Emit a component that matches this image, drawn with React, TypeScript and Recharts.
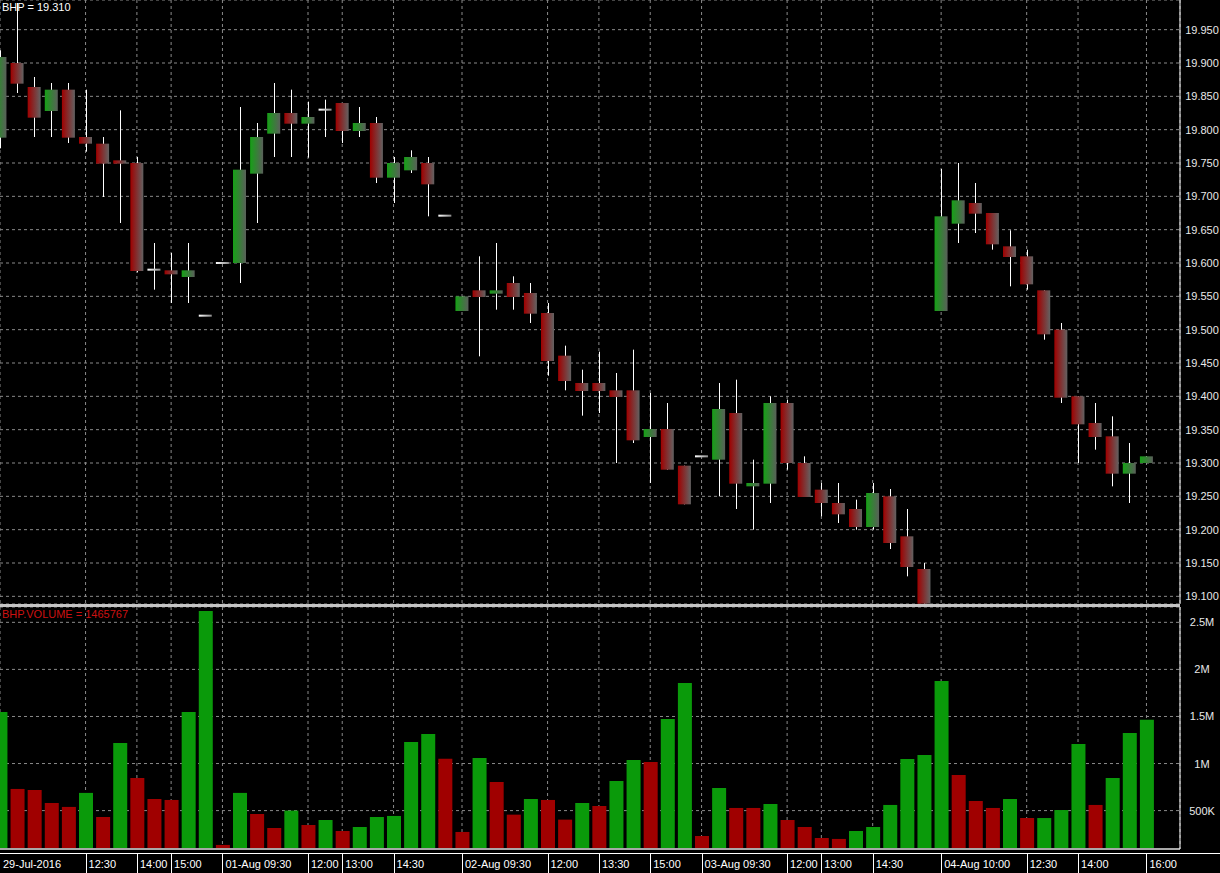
import React from 'react';
import { ComposedChart, BarChart, Bar, XAxis, YAxis, CartesianGrid, Cell } from 'recharts';

// ---- data (30-minute bars, BHP) ----
const opens = [
  19.788, 19.900, 19.864, 19.828, 19.860, 19.789, 19.779, 19.754, 19.750, 19.590,
  19.589, 19.579, 19.521, 19.600, 19.600, 19.734, 19.794, 19.825, 19.809, 19.830,
  19.840, 19.798, 19.810, 19.728, 19.739, 19.750, 19.671, 19.528, 19.559, 19.554,
  19.570, 19.555, 19.525, 19.461, 19.420, 19.420, 19.409, 19.409, 19.339, 19.351,
  19.296, 19.310, 19.305, 19.375, 19.265, 19.269, 19.390, 19.300, 19.260, 19.240,
  19.231, 19.204, 19.250, 19.190, 19.141, 19.528, 19.659, 19.690, 19.675, 19.625,
  19.610, 19.559, 19.500, 19.400, 19.360, 19.340, 19.284, 19.300,
];
const highs = [
  19.919, 19.990, 19.879, 19.870, 19.870, 19.860, 19.789, 19.829, 19.759, 19.630,
  19.615, 19.630, 19.521, 19.600, 19.834, 19.810, 19.870, 19.860, 19.842, 19.845,
  19.840, 19.834, 19.819, 19.759, 19.769, 19.759, 19.671, 19.550, 19.610, 19.630,
  19.580, 19.570, 19.540, 19.476, 19.440, 19.467, 19.435, 19.470, 19.405, 19.390,
  19.296, 19.310, 19.420, 19.425, 19.305, 19.400, 19.395, 19.310, 19.270, 19.270,
  19.245, 19.270, 19.261, 19.231, 19.150, 19.741, 19.750, 19.720, 19.675, 19.649,
  19.620, 19.559, 19.510, 19.400, 19.390, 19.370, 19.330, 19.310,
];
const lows = [
  19.772, 19.855, 19.789, 19.789, 19.780, 19.767, 19.699, 19.660, 19.586, 19.560,
  19.540, 19.540, 19.521, 19.600, 19.570, 19.660, 19.759, 19.759, 19.758, 19.789,
  19.780, 19.789, 19.720, 19.690, 19.735, 19.670, 19.671, 19.528, 19.460, 19.530,
  19.530, 19.510, 19.431, 19.409, 19.371, 19.375, 19.300, 19.330, 19.270, 19.290,
  19.238, 19.310, 19.250, 19.231, 19.200, 19.240, 19.290, 19.249, 19.220, 19.210,
  19.200, 19.200, 19.171, 19.130, 19.089, 19.528, 19.630, 19.645, 19.620, 19.565,
  19.560, 19.485, 19.390, 19.300, 19.320, 19.265, 19.240, 19.300,
];
const closes = [
  19.909, 19.869, 19.818, 19.860, 19.788, 19.779, 19.749, 19.749, 19.588, 19.590,
  19.583, 19.589, 19.521, 19.600, 19.740, 19.789, 19.825, 19.809, 19.819, 19.830,
  19.798, 19.810, 19.728, 19.750, 19.759, 19.718, 19.671, 19.550, 19.549, 19.559,
  19.549, 19.524, 19.453, 19.423, 19.408, 19.408, 19.399, 19.334, 19.351, 19.290,
  19.238, 19.310, 19.381, 19.269, 19.270, 19.390, 19.300, 19.249, 19.240, 19.223,
  19.204, 19.255, 19.180, 19.144, 19.089, 19.670, 19.694, 19.674, 19.628, 19.609,
  19.568, 19.493, 19.398, 19.358, 19.339, 19.284, 19.300, 19.310,
];
const volumes = [
  1548000, 730000, 720000, 581000, 539000, 688000, 432000, 1218000, 847000, 623000,
  613000, 1548000, 2621000, 135000, 688000, 464000, 315000, 500000, 347000, 400000,
  283000, 326000, 432000, 443000, 1229000, 1314000, 1052000, 273000, 1059000, 804000,
  457000, 623000, 613000, 404000, 581000, 549000, 815000, 1038000, 1016000, 1473000,
  1856000, 230000, 740000, 528000, 528000, 570000, 400000, 326000, 209000, 199000,
  283000, 326000, 560000, 1049000, 1091000, 1877000, 879000, 602000, 528000, 623000,
  421000, 421000, 506000, 1208000, 560000, 847000, 1325000, 1465767,
];
// 1 = green volume bar, 0 = red volume bar
const volumeUp = [
  1, 0, 0, 0, 0, 1, 0, 1, 0, 0,
  0, 1, 1, 0, 1, 0, 0, 1, 0, 1,
  0, 1, 1, 1, 1, 1, 0, 0, 1, 0,
  0, 1, 0, 0, 1, 0, 1, 1, 0, 1,
  1, 0, 1, 0, 0, 1, 0, 0, 0, 0,
  1, 1, 1, 1, 1, 1, 0, 0, 0, 1,
  0, 1, 1, 1, 0, 1, 1, 1,
];
const timeTickIndex = [0, 5, 8, 10, 13, 18, 20, 23, 27, 32, 35, 38, 41, 46, 48, 51, 55, 60, 63, 67];
const timeTickLabels = [
  '29-Jul-2016', '12:30', '14:00', '15:00', '01-Aug 09:30', '12:00', '13:00', '14:30',
  '02-Aug 09:30', '12:00', '13:30', '15:00', '03-Aug 09:30', '12:00', '13:00', '14:30',
  '04-Aug 10:00', '12:30', '14:00', '16:00',
];
const priceTicks = [
  19.1, 19.15, 19.2, 19.25, 19.3, 19.35, 19.4, 19.45, 19.5, 19.55,
  19.6, 19.65, 19.7, 19.75, 19.8, 19.85, 19.9, 19.95,
];
const volumeTicks = [500000, 1000000, 1500000, 2000000, 2500000];
const volumeTickLabels = ['500K', '1M', '1.5M', '2M', '2.5M'];

const data = opens.map((o, i) => ({
  i,
  open: o,
  high: highs[i],
  low: lows[i],
  close: closes[i],
  volume: volumes[i],
  up: volumeUp[i],
}));

const FONT = '"Liberation Sans", Arial, sans-serif';
const X_DOMAIN: [number, number] = [0, 68.96];
const PRICE_DOMAIN: [number, number] = [19.0885, 19.9945];
const VOL_DOMAIN: [number, number] = [92000, 2663000];

const Candle = (props: any) => {
  const { x, y, width, height, payload } = props;
  if (x == null || y == null || !payload) return null;
  const { open, close, high, low } = payload;
  const cx = Math.round(x + width / 2) + 0.5;
  const range = high - low;
  const toY = (v: number) => (range > 0 ? y + ((high - v) / range) * height : y);
  const wick =
    range > 0 ? <line x1={cx} x2={cx} y1={y} y2={y + height} stroke="#ffffff" strokeWidth={1} /> : null;
  if (open === close) {
    return (
      <g>
        {wick}
        <rect x={x} y={toY(open) - 1} width={width} height={2} fill="url(#gDoji)" />
      </g>
    );
  }
  const top = toY(Math.max(open, close));
  const bot = toY(Math.min(open, close));
  return (
    <g>
      {wick}
      <rect
        x={x}
        y={top}
        width={width}
        height={Math.max(1, bot - top)}
        fill={close > open ? 'url(#gUp)' : 'url(#gDn)'}
      />
    </g>
  );
};

const PriceTick = (props: any) => {
  const { x, y, payload } = props;
  return (
    <text x={x + 22} y={y + 4} fill="#e8e8e8" fontSize={11} fontFamily={FONT} textAnchor="middle">
      {Number(payload.value).toFixed(3)}
    </text>
  );
};

const VolTick = (props: any) => {
  const { x, y, payload } = props;
  const k = volumeTicks.indexOf(payload.value);
  return (
    <text x={x + 22} y={y + 4} fill="#e8e8e8" fontSize={11} fontFamily={FONT} textAnchor="middle">
      {k >= 0 ? volumeTickLabels[k] : ''}
    </text>
  );
};

const TimeTick = (props: any) => {
  const { x, y, payload } = props;
  const k = timeTickIndex.indexOf(payload.value);
  const label = k >= 0 ? timeTickLabels[k] : '';
  const lx = Math.round(x) + 0.5;
  return (
    <g>
      {k > 0 ? <line x1={lx} x2={lx} y1={y + 4} y2={y + 26} stroke="#ffffff" strokeWidth={1} /> : null}
      <text x={x + 3} y={y + 19} fill="#ffffff" fontSize={11} fontFamily={FONT} textAnchor="start">
        {label}
      </text>
    </g>
  );
};

export default function App() {
  return (
    <div
      style={{
        position: 'absolute',
        left: 0,
        top: 0,
        width: 1220,
        height: 873,
        background: '#000000',
        overflow: 'hidden',
        fontFamily: FONT,
      }}
    >
      <div style={{ position: 'absolute', left: 0, top: 0 }}>
        <ComposedChart width={1220} height={604} data={data} margin={{ top: 0, right: 0, bottom: 0, left: 0 }}>
          <defs>
            <linearGradient id="gUp" x1="0" y1="0" x2="1" y2="0">
              <stop offset="0%" stopColor="#16a016" />
              <stop offset="100%" stopColor="#5a5f5a" />
            </linearGradient>
            <linearGradient id="gDn" x1="0" y1="0" x2="1" y2="0">
              <stop offset="0%" stopColor="#a00000" />
              <stop offset="100%" stopColor="#626262" />
            </linearGradient>
            <linearGradient id="gDoji" x1="0" y1="0" x2="1" y2="0">
              <stop offset="0%" stopColor="#ffffff" />
              <stop offset="100%" stopColor="#8a8a8a" />
            </linearGradient>
          </defs>
          <CartesianGrid stroke="#8a8a8a" strokeDasharray="3 3" />
          <XAxis
            dataKey="i"
            type="number"
            domain={X_DOMAIN}
            ticks={timeTickIndex}
            allowDataOverflow
            hide
          />
          <YAxis
            orientation="right"
            width={40}
            type="number"
            domain={PRICE_DOMAIN}
            ticks={priceTicks}
            allowDataOverflow
            interval={0}
            tickSize={0}
            tickMargin={0}
            tickLine={false}
            axisLine={{ stroke: '#ffffff' }}
            tick={<PriceTick />}
          />
          <Bar
            dataKey={(d: any) => [d.low, d.high]}
            barSize={13}
            shape={<Candle />}
            isAnimationActive={false}
          />
        </ComposedChart>
      </div>

      <div style={{ position: 'absolute', left: 0, top: 604, width: 1180, height: 3, background: '#c4c4c4' }} />

      <div style={{ position: 'absolute', left: 0, top: 607 }}>
        <BarChart width={1220} height={266} data={data} margin={{ top: 0, right: 0, bottom: 0, left: 0 }}>
          <CartesianGrid stroke="#8a8a8a" strokeDasharray="3 3" />
          <XAxis
            dataKey="i"
            type="number"
            domain={X_DOMAIN}
            ticks={timeTickIndex}
            allowDataOverflow
            interval={0}
            height={24}
            tickSize={0}
            tickMargin={0}
            tickLine={false}
            axisLine={{ stroke: '#a8a8a8', strokeWidth: 2 }}
            tick={<TimeTick />}
          />
          <YAxis
            orientation="right"
            width={40}
            type="number"
            domain={VOL_DOMAIN}
            ticks={volumeTicks}
            allowDataOverflow
            interval={0}
            tickSize={0}
            tickMargin={0}
            tickLine={false}
            axisLine={{ stroke: '#ffffff' }}
            tick={<VolTick />}
          />
          <Bar dataKey="volume" barSize={14} isAnimationActive={false}>
            {data.map((d) => (
              <Cell key={d.i} fill={d.up ? '#0a9a0a' : '#a00000'} />
            ))}
          </Bar>
        </BarChart>
      </div>

      <div style={{ position: 'absolute', left: 0, top: 853, width: 1220, height: 1, background: '#ffffff' }} />

      <div
        style={{
          position: 'absolute',
          left: 2,
          top: 1,
          color: '#ffffff',
          fontSize: 11,
          lineHeight: '13px',
          whiteSpace: 'nowrap',
        }}
      >
        BHP = 19.310
      </div>
      <div
        style={{
          position: 'absolute',
          left: 2,
          top: 608,
          color: '#cc1111',
          fontSize: 11,
          lineHeight: '13px',
          whiteSpace: 'nowrap',
        }}
      >
        BHP.VOLUME = 1465767
      </div>
    </div>
  );
}
